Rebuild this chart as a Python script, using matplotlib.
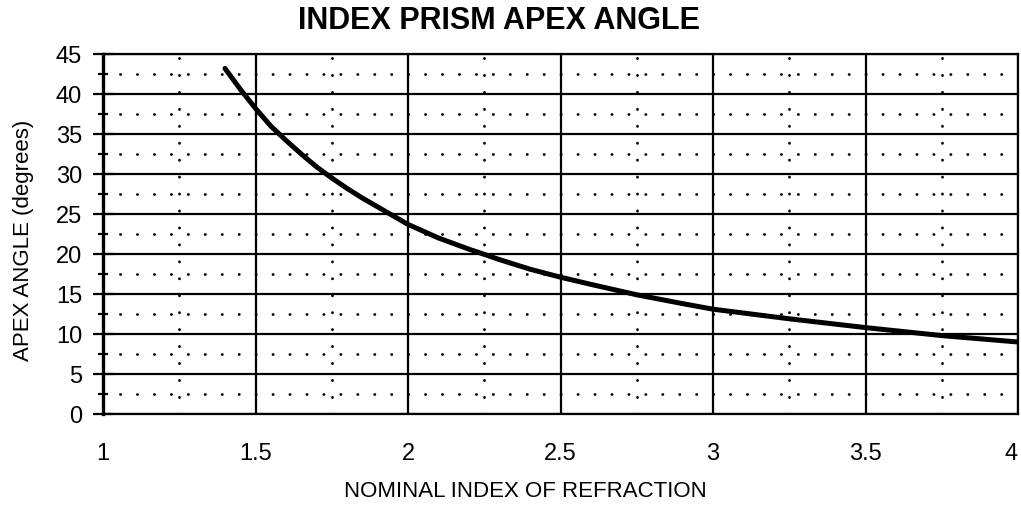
import matplotlib
matplotlib.use("Agg")
import matplotlib.pyplot as plt

# index of refraction vs apex angle
index_n = [1.40, 1.45, 1.50, 1.55, 1.60, 1.65, 1.70, 1.75, 1.80, 1.85, 1.90, 1.95,
           2.00, 2.10, 2.20, 2.30, 2.40, 2.50, 2.60, 2.75, 2.90, 3.00, 3.25, 3.50, 3.75, 4.00]
apex_deg = [43.2, 40.6, 38.2, 36.0, 34.2, 32.5, 30.9, 29.5, 28.2, 27.0, 25.9, 24.8,
            23.7, 22.0, 20.6, 19.3, 18.1, 17.1, 16.2, 14.9, 13.8, 13.1, 11.9, 10.8, 9.8, 9.0]

x_major = [1, 1.5, 2, 2.5, 3, 3.5, 4]
x_labels = ["1", "1.5", "2", "2.5", "3", "3.5", "4"]
x_minor = [1.25, 1.75, 2.25, 2.75, 3.25, 3.75]
y_major = [0, 5, 10, 15, 20, 25, 30, 35, 40, 45]
y_minor = [2.5, 7.5, 12.5, 17.5, 22.5, 27.5, 32.5, 37.5, 42.5]

title = "INDEX PRISM APEX ANGLE"
xlabel = "NOMINAL INDEX OF REFRACTION"
ylabel = "APEX ANGLE (degrees)"

plt.rcParams['font.family'] = ['Liberation Sans', 'DejaVu Sans']

fig = plt.figure(figsize=(10.21, 5.10), dpi=100)
ax = fig.add_axes([103/1021, 95/510, 915/1021, 360/510])

ax.set_xlim(1, 4)
ax.set_ylim(0, 45)
ax.set_xticks(x_major)
ax.set_xticklabels(x_labels)
ax.set_xticks(x_minor, minor=True)
ax.set_yticks(y_major)
ax.set_yticklabels([str(v) for v in y_major])
ax.set_yticks(y_minor, minor=True)
# keep the last label inside the figure
ax.get_xticklabels()[-1].set_horizontalalignment('right')

# solid major grid, dotted minor grid (round dots ~17px apart)
ax.grid(which='major', color='black', linewidth=1.6, linestyle='-')
ax.grid(which='minor', color='black', linewidth=2.0, linestyle=(0, (0.1, 6.0)),
        dash_capstyle='round')
ax.set_axisbelow(True)

ax.plot(index_n, apex_deg, color='black', linewidth=3.6, solid_capstyle='round', zorder=3)

for s in ax.spines.values():
    s.set_linewidth(1.6)
ax.spines['left'].set_linewidth(2.4)

ax.tick_params(axis='y', which='major', direction='inout', length=14, width=1.6,
               labelsize=17, pad=8)
ax.tick_params(axis='y', which='minor', direction='inout', length=7, width=1.6)
ax.tick_params(axis='x', which='both', length=0, labelsize=17, pad=20)

fig.text(499/1021, 1 - 21/510, title, ha='center', va='center', fontsize=22,
         fontweight='bold')
fig.text(525/1021, 1 - 492/510, xlabel, ha='center', va='center', fontsize=16)
fig.text(24/1021, 1 - 240/510, ylabel, ha='center', va='center', fontsize=16, rotation=90)

fig.savefig("out.png", dpi=100)
